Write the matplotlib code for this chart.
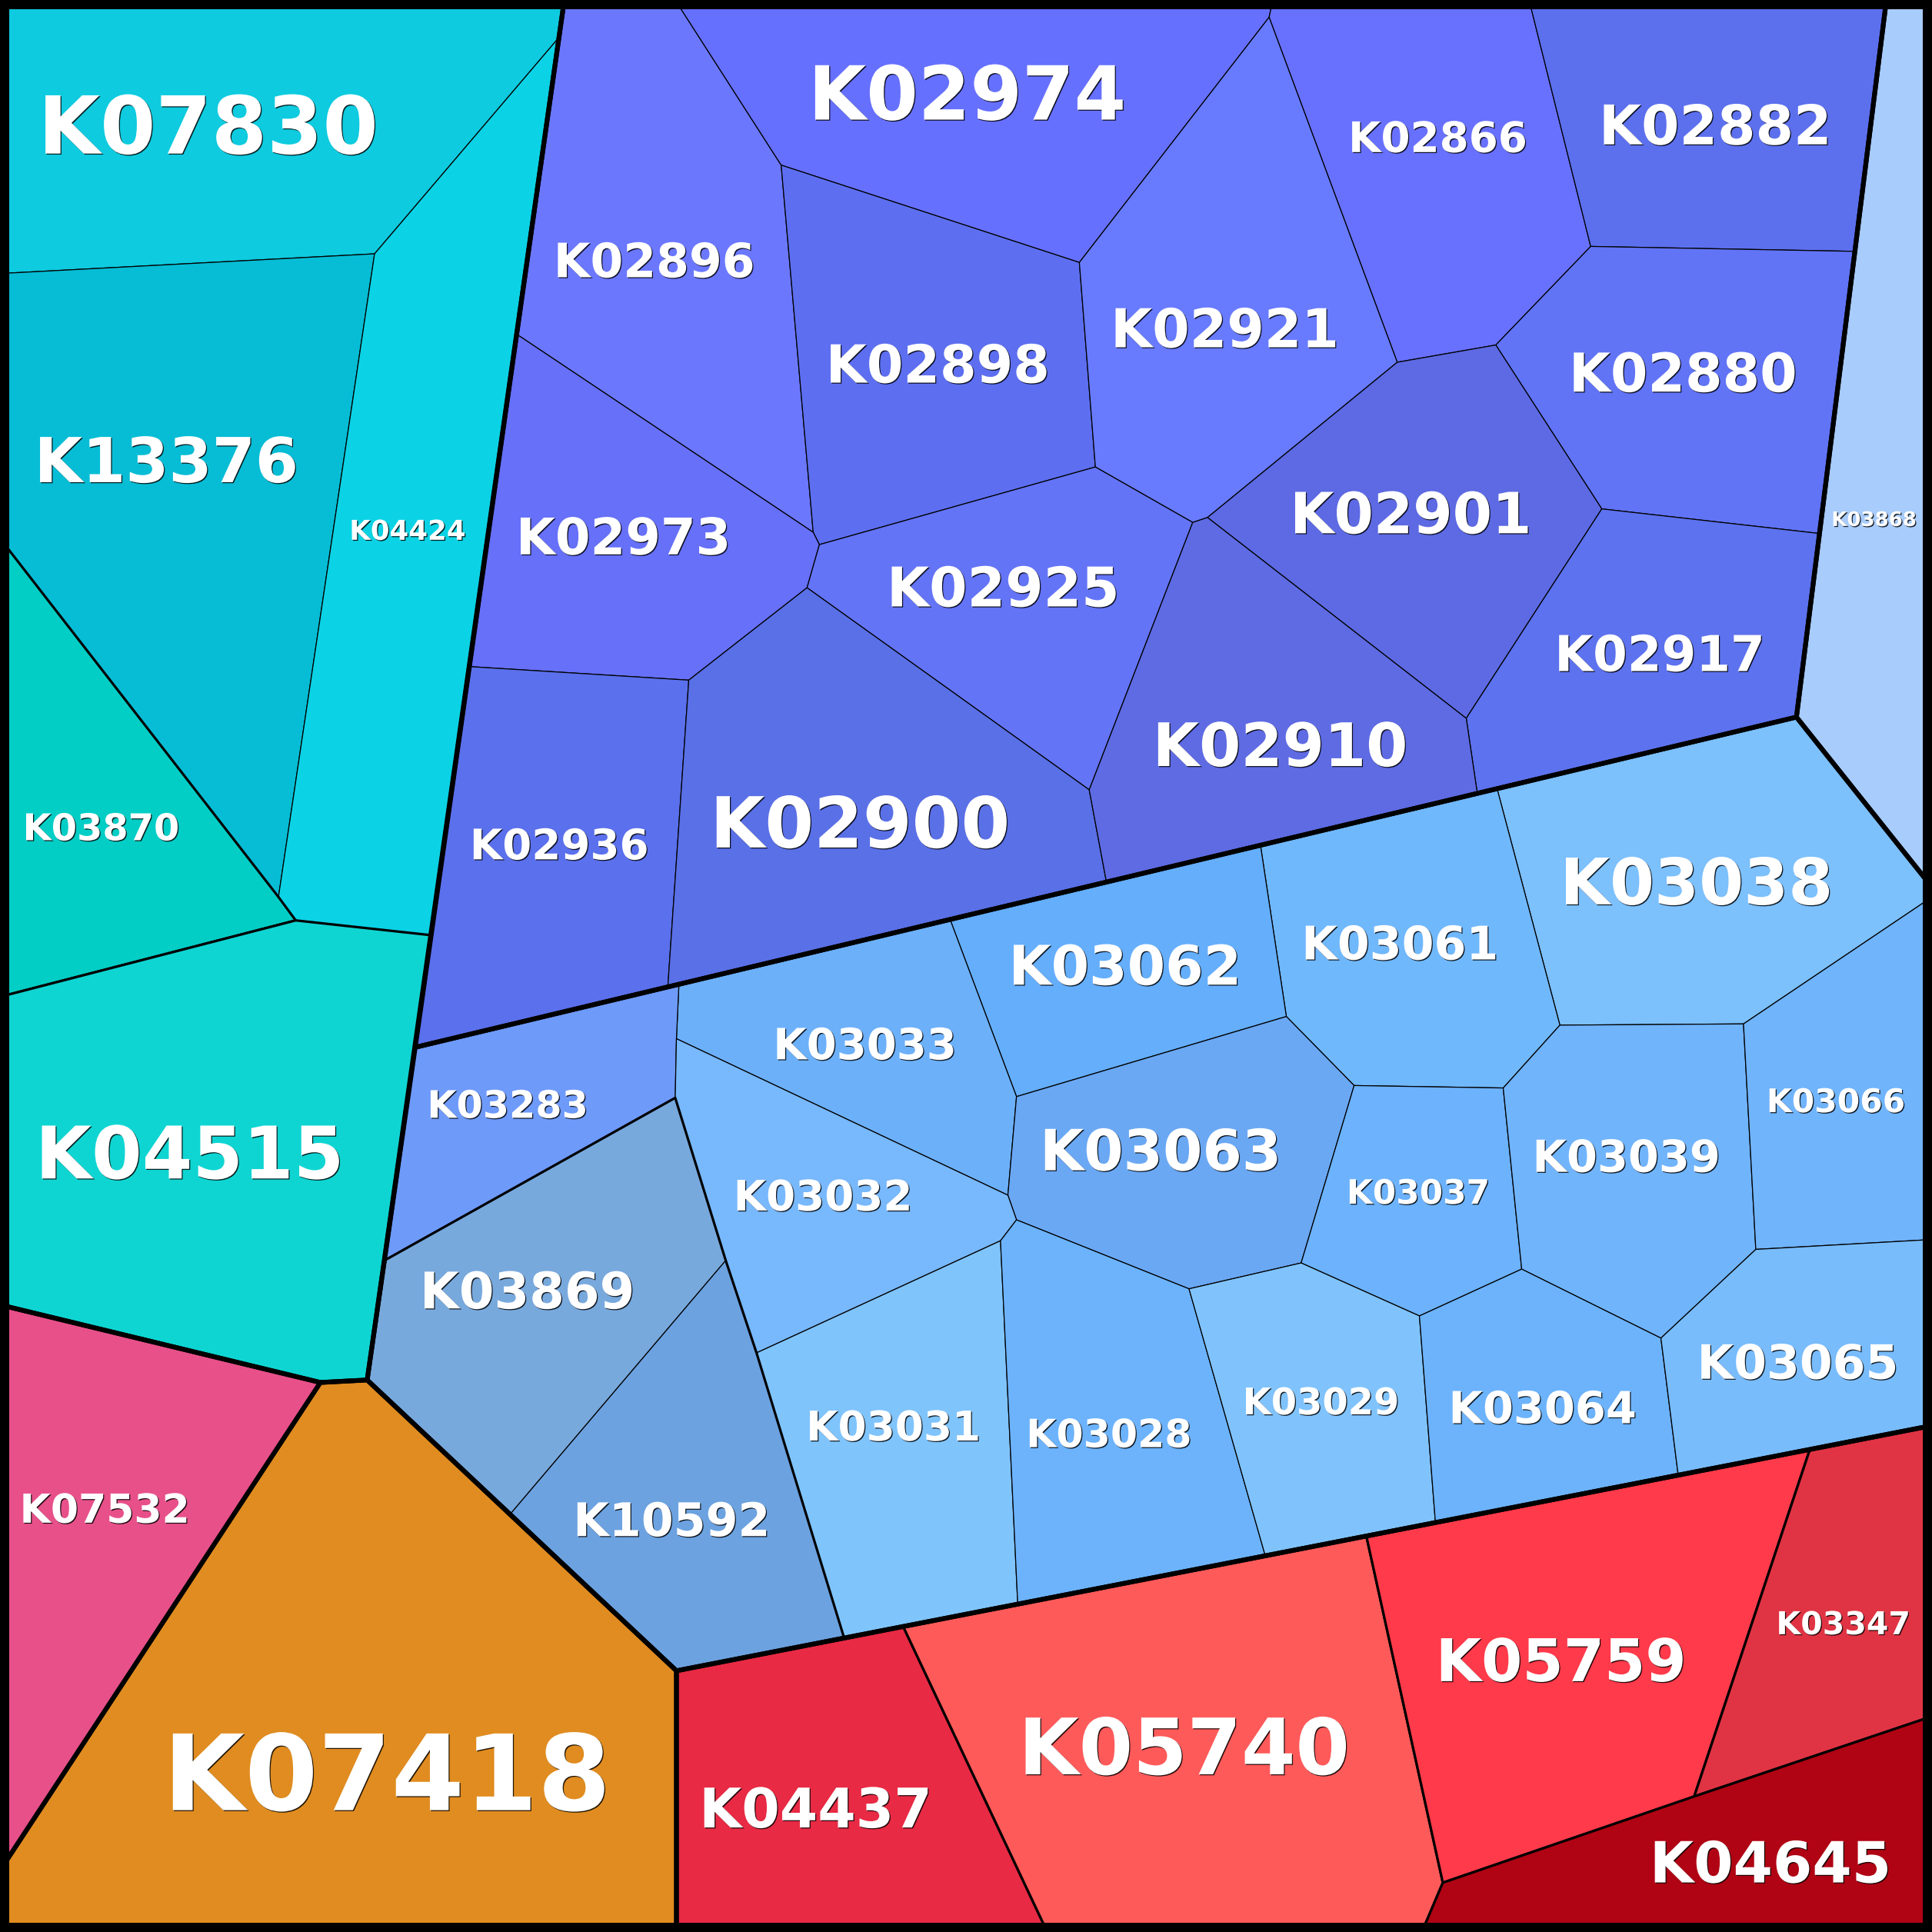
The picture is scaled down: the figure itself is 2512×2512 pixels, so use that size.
import matplotlib
matplotlib.use("Agg")
import matplotlib.pyplot as plt
from matplotlib.patches import Polygon, Rectangle
import matplotlib.patheffects as pe

# ---------------- data (cell geometry, 1568-unit canvas) -------------
cyan_names = ["K07830", "K13376", "K04424", "K03870", "K04515"]
cyan_colors = ["#0ecbdf", "#06bdd5", "#0bd3e5", "#02cec6", "#0fd5d2"]
cyan_cells = [
    [(0, 0), (458, 0), (454, 30), (304, 206), (0, 222)],
    [(0, 222), (304, 206), (226, 728), (0, 437)],
    [(454, 30), (304, 206), (226, 728), (240, 747), (350, 759)],
    [(0, 437), (226, 728), (240, 747), (0, 809)],
    [(0, 809), (240, 747), (350, 759), (298, 1120), (260, 1122), (0, 1059)],
]
cyan_level = [3, 3, 3, 2, 2]

purple_names = ["K02896", "K02974", "K02866", "K02882", "K02898", "K02921", "K02880",
                "K02973", "K02925", "K02901", "K02917", "K02936", "K02900", "K02910"]
purple_colors = ["#6b78fe", "#6670fe", "#6871fe", "#5c70ee", "#5d6ff0", "#687bfe", "#6174f6",
                 "#6670f8", "#6474f6", "#5d6ae3", "#5d72ee", "#5b70ec", "#5a70e7", "#5e6be3"]
purple_cells = [
    [(458, 0), (548, 0), (634, 134), (660, 432), (419, 271)],
    [(548, 0), (1033, 0), (1030, 14), (876, 213), (634, 134)],
    [(1033, 0), (1241, 0), (1291, 200), (1214, 280), (1134, 294), (1030, 14)],
    [(1241, 0), (1531, 0), (1505, 204), (1291, 200)],
    [(634, 134), (876, 213), (889, 379), (665, 442), (660, 432)],
    [(1030, 14), (1134, 294), (980, 420), (968, 424), (889, 379), (876, 213)],
    [(1291, 200), (1505, 204), (1477, 433), (1300, 413), (1214, 280)],
    [(419, 271), (660, 432), (665, 442), (655, 477), (559, 552), (381, 541)],
    [(665, 442), (889, 379), (968, 424), (884, 641), (655, 477)],
    [(1134, 294), (1214, 280), (1300, 413), (1190, 583), (980, 420)],
    [(1300, 413), (1477, 433), (1458, 582), (1199, 644), (1190, 583)],
    [(381, 541), (559, 552), (542, 801), (337, 850)],
    [(559, 552), (655, 477), (884, 641), (898, 716), (542, 801)],
    [(968, 424), (980, 420), (1190, 583), (1199, 644), (898, 716), (884, 641)],
]

single_names = ["K03868", "K07418", "K07532"]
single_colors = ["#a8ccfc", "#e08c20", "#e8508a"]
single_cells = [
    [(1531, 0), (1568, 0), (1568, 720), (1458, 582)],
    [(260, 1122), (298, 1120), (549, 1356), (549, 1568), (0, 1568), (0, 1518)],
    [(0, 1059), (260, 1122), (0, 1518)],
]

blue_names = ["K03038", "K03061", "K03062", "K03033", "K03283", "K03063", "K03037", "K03039",
              "K03066", "K03032", "K03869", "K10592", "K03031", "K03028", "K03029", "K03064",
              "K03065"]
blue_colors = ["#7cc0fc", "#70b8fc", "#64aefc", "#6cb0fa", "#6e9afa", "#6aa8f4", "#6cb2fc",
               "#70b4fc", "#70b4fc", "#78b8fc", "#78a9dd", "#6ca2e0", "#80c4fc", "#6cb3fc",
               "#80c3fc", "#6cb3fc", "#78bcfc"]
blue_cells = [
    [(1215, 640), (1458, 582), (1568, 720), (1568, 728), (1415, 831), (1266, 832)],
    [(1023, 686), (1215, 640), (1266, 832), (1220, 883), (1099, 881), (1044, 825)],
    [(771, 746), (1023, 686), (1044, 825), (825, 890)],
    [(551, 799), (771, 746), (825, 890), (818, 970), (549, 843)],
    [(337, 850), (551, 799), (549, 843), (548, 891), (312, 1023)],
    [(825, 890), (1044, 825), (1099, 881), (1056, 1025), (965, 1046), (825, 990), (818, 970)],
    [(1099, 881), (1220, 883), (1235, 1030), (1152, 1068), (1056, 1025)],
    [(1266, 832), (1415, 831), (1425, 1014), (1348, 1086), (1235, 1030), (1220, 883)],
    [(1415, 831), (1568, 728), (1568, 1006), (1425, 1014)],
    [(549, 843), (818, 970), (825, 990), (812, 1007), (614, 1098), (589, 1023), (548, 891)],
    [(312, 1023), (548, 891), (589, 1023), (414, 1229), (298, 1120)],
    [(589, 1023), (614, 1098), (685, 1329), (549, 1356), (414, 1229)],
    [(614, 1098), (812, 1007), (826, 1302), (685, 1329)],
    [(812, 1007), (825, 990), (965, 1046), (1027, 1263), (826, 1302)],
    [(965, 1046), (1056, 1025), (1152, 1068), (1165, 1236), (1027, 1263)],
    [(1152, 1068), (1235, 1030), (1348, 1086), (1362, 1197), (1165, 1236)],
    [(1348, 1086), (1425, 1014), (1568, 1006), (1568, 1157), (1362, 1197)],
]
blue_subgroup = [(312, 1023), (548, 891), (589, 1023), (614, 1098), (685, 1329),
                 (549, 1356), (414, 1229), (298, 1120)]

red_names = ["K04437", "K05740", "K05759", "K03347", "K04645"]
red_colors = ["#e82a44", "#ff5a5a", "#ff3a4a", "#e03444", "#b00414"]
red_cells = [
    [(549, 1356), (733, 1320), (850, 1568), (549, 1568)],
    [(733, 1320), (1109, 1247), (1171, 1528), (1154, 1568), (850, 1568)],
    [(1109, 1247), (1469, 1176), (1375, 1458), (1171, 1528)],
    [(1469, 1176), (1568, 1157), (1568, 1393), (1375, 1458)],
    [(1171, 1528), (1375, 1458), (1568, 1393), (1568, 1568), (1154, 1568)],
]

group_outlines = [
    [(0, 0), (458, 0), (298, 1120), (260, 1122), (0, 1059)],
    [(458, 0), (1531, 0), (1458, 582), (337, 850)],
    [(337, 850), (1458, 582), (1568, 720), (1568, 1157), (549, 1356), (298, 1120)],
    [(549, 1356), (1568, 1157), (1568, 1568), (549, 1568)],
]

# ---------------- label layout (centre x, centre y, font size in pt) ----------------
label_layout = {
    "K07830": (169, 101, 76), "K13376": (135, 373, 59), "K04424": (331, 430, 26),
    "K03870": (82, 671, 35), "K04515": (154, 935, 69),
    "K02974": (785, 75, 71), "K02866": (1167, 111, 40), "K02882": (1392, 101, 52),
    "K02896": (531, 211, 45), "K02898": (761, 295, 50), "K02921": (994, 266, 51),
    "K02880": (1366, 302, 51), "K02973": (506, 435, 48), "K02925": (814, 476, 52),
    "K02901": (1145, 416, 54), "K02917": (1347, 530, 47), "K03868": (1521, 421, 19),
    "K02936": (454, 685, 40), "K02900": (698, 667, 67), "K02910": (1039, 604, 57),
    "K03038": (1377, 715, 61), "K03062": (913, 783, 52), "K03061": (1136, 765, 44),
    "K03033": (702, 847, 41), "K03283": (412, 896, 36), "K03063": (942, 933, 54),
    "K03037": (1151, 967, 32), "K03039": (1320, 938, 42), "K03066": (1490, 893, 31),
    "K03032": (668, 970, 40), "K03869": (428, 1047, 48), "K10592": (545, 1233, 44),
    "K03031": (725, 1157, 39), "K03028": (900, 1163, 37), "K03029": (1072, 1137, 35),
    "K03064": (1252, 1142, 42), "K03065": (1459, 1105, 45),
    "K04437": (662, 1467, 52), "K05740": (961, 1417, 74), "K05759": (1267, 1347, 56),
    "K03347": (1496, 1317, 30), "K04645": (1437, 1511, 54),
    "K07418": (314, 1438, 100), "K07532": (85, 1224, 38),
}
FONT_SCALE = 0.985

THIN, MEDIUM, THICK = 0.9, 2.3, 4.4

fig = plt.figure(figsize=(25.12, 25.12), dpi=100)
ax = fig.add_axes([0, 0, 1, 1])
ax.set_xlim(0, 1568)
ax.set_ylim(1568, 0)
ax.axis("off")


def draw_cells(cells, colors, widths):
    order = sorted(range(len(cells)), key=lambda i: widths[i])
    for i in order:
        ax.add_patch(Polygon(cells[i], closed=True, facecolor=colors[i], edgecolor="black",
                             linewidth=widths[i], joinstyle="round", zorder=1 + widths[i] / 10))


draw_cells(purple_cells, purple_colors, [THIN] * len(purple_cells))
draw_cells(blue_cells, blue_colors, [THIN] * len(blue_cells))
draw_cells(cyan_cells, cyan_colors, [THIN if l == 3 else MEDIUM for l in cyan_level])
draw_cells(red_cells, red_colors, [MEDIUM] * len(red_cells))
draw_cells(single_cells, single_colors, [THICK] * len(single_cells))

ax.add_patch(Polygon(blue_subgroup, closed=True, fill=False, edgecolor="black",
                     linewidth=MEDIUM, joinstyle="round", zorder=2))
for outline in group_outlines:
    ax.add_patch(Polygon(outline, closed=True, fill=False, edgecolor="black",
                         linewidth=THICK, joinstyle="round", zorder=3))

ax.add_patch(Rectangle((3.75, 3.75), 1560.5, 1560.5, fill=False, edgecolor="black",
                       linewidth=8.64, joinstyle="miter", zorder=4))

shadow = [pe.withSimplePatchShadow(offset=(0.9, -0.9), shadow_rgbFace="black", alpha=0.85)]
PT = 0.867  # canvas units per point
for name in cyan_names + purple_names + single_names + blue_names + red_names:
    cx, cy, fs = label_layout[name]
    fs = fs * FONT_SCALE
    ax.text(cx, cy + 0.3645 * fs * PT, name, ha="center", va="baseline", fontsize=fs,
            fontweight="bold", family="DejaVu Sans", color="white", zorder=5,
            path_effects=shadow)

fig.savefig("out.png", dpi=100)
